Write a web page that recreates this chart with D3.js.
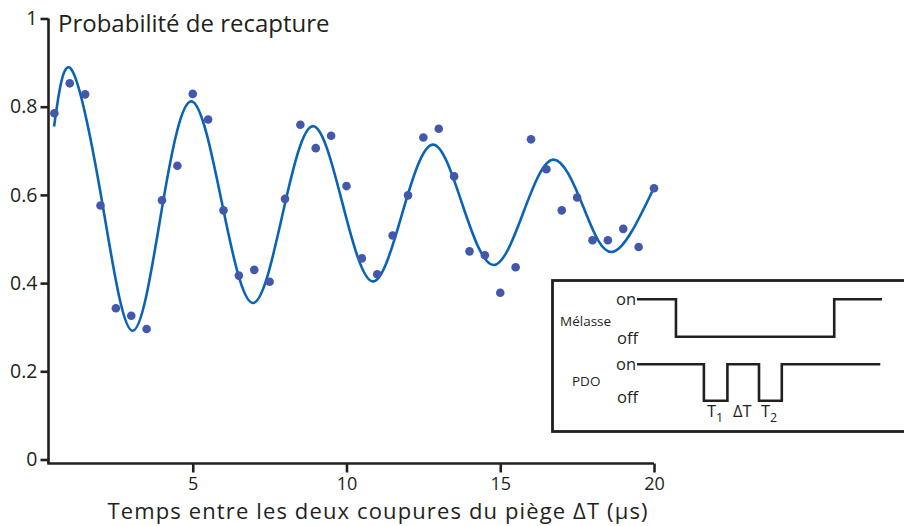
<!DOCTYPE html>
<html lang="fr">
<head>
<meta charset="utf-8">
<title>Probabilité de recapture</title>
<script src="https://d3js.org/d3.v7.min.js"></script>
<style>
  body { margin: 0; background: #fff; }
  svg text { font-family: "Open Sans", "Noto Sans", sans-serif; fill: #231f20; }
</style>
</head>
<body>
<svg id="chart" width="904" height="526"></svg>
<script>
// mesures : delta T (µs) et probabilité de recapture
let dt = [0.5, 1, 1.5, 2, 2.5, 3, 3.5, 4, 4.5, 5, 5.5, 6, 6.5, 7, 7.5, 8, 8.5, 9, 9.5, 10,
          10.5, 11, 11.5, 12, 12.5, 13, 13.5, 14, 14.5, 15, 15.5, 16, 16.5, 17, 17.5, 18, 18.5, 19, 19.5, 20];
let prob = [0.785, 0.853, 0.828, 0.576, 0.343, 0.326, 0.296, 0.588, 0.666, 0.829,
            0.771, 0.565, 0.417, 0.430, 0.403, 0.591, 0.759, 0.706, 0.734, 0.620,
            0.456, 0.420, 0.508, 0.599, 0.730, 0.750, 0.642, 0.472, 0.463, 0.378,
            0.436, 0.726, 0.658, 0.565, 0.594, 0.497, 0.497, 0.523, 0.482, 0.615];

// courbe ajustée (extrema et points intermédiaires)
let fitT = [0.49, 1.06, 2.05, 3.04, 4.0, 4.96, 5.96, 6.96, 7.95, 8.91, 9.88, 10.85,
            11.82, 12.8, 13.78, 14.77, 15.75, 16.72, 17.7, 18.67, 19.95];
let fitP = [0.755, 0.884, 0.585, 0.292, 0.57, 0.812, 0.578, 0.355, 0.565, 0.756, 0.578, 0.404,
            0.56, 0.714, 0.576, 0.441, 0.56, 0.680, 0.573, 0.471, 0.609];

let xTicks = [5, 10, 15, 20];
let yTicks = [0, 0.2, 0.4, 0.6, 0.8, 1];

// chronogramme de l'encart (temps arbitraire 0..100, 1 = on, 0 = off)
let melasseT = [0, 15.9, 80.5, 100];
let melasseL = [1, 0, 1, 1];
let pdoT = [0, 27.3, 36.9, 49.8, 59.1, 99.3];
let pdoL = [1, 0, 1, 0, 1, 1];

let svg = d3.select('#chart');
let ink = '#231f20';

let x = d3.scaleLinear().domain([0, 20]).range([39, 654]);
let y = d3.scaleLinear().domain([0, 1]).range([459.5, 18.5]);

// axe vertical
let yAxis = svg.append('g')
    .attr('transform', 'translate(48.5,0)')
    .call(d3.axisLeft(y).tickValues(yTicks).tickSize(8).tickPadding(3)
        .tickFormat(d => d === 0 || d === 1 ? d3.format('d')(d) : d3.format('.1f')(d)));
yAxis.select('.domain').attr('d', `M0,${y(1)}V463.5`);
yAxis.selectAll('line, path').attr('stroke', ink).attr('stroke-width', 2.6);
yAxis.selectAll('text').style('font-size', '19.5px').attr('fill', ink);

// axe horizontal
let xAxis = svg.append('g')
    .attr('transform', 'translate(0,463.5)')
    .call(d3.axisBottom(x).tickValues(xTicks).tickSize(9).tickPadding(5));
xAxis.select('.domain').attr('d', `M47.2,0H${x(20)}`);
xAxis.selectAll('line, path').attr('stroke', ink).attr('stroke-width', 2.6);
xAxis.selectAll('text').style('font-size', '18px').attr('fill', ink);

// titres
svg.append('text')
    .attr('x', 58).attr('y', 32)
    .style('font-size', '24px')
    .text('Probabilité de recapture');
svg.append('text')
    .attr('x', 377.5).attr('y', 519)
    .attr('text-anchor', 'middle')
    .attr('textLength', 540)
    .attr('lengthAdjust', 'spacing')
    .style('font-size', '22px')
    .text('Temps entre les deux coupures du piège ΔT (µs)');

// courbe ajustée
let fit = fitT.map((t, i) => ({t: t, p: fitP[i]}));
svg.append('path')
    .datum(fit)
    .attr('fill', 'none')
    .attr('stroke', '#0b63b5')
    .attr('stroke-width', 2.6)
    .attr('d', d3.line().x(d => x(d.t)).y(d => y(d.p)).curve(d3.curveNatural));

// points de mesure
svg.append('g')
    .selectAll('circle')
    .data(dt.map((t, i) => ({t: t, p: prob[i]})))
    .join('circle')
    .attr('cx', d => x(d.t))
    .attr('cy', d => y(d.p))
    .attr('r', 4.3)
    .attr('fill', '#4358ab');

// encart : chronogramme
let inset = svg.append('g');
inset.append('rect')
    .attr('x', 552.5).attr('y', 280.5)
    .attr('width', 380).attr('height', 151)
    .attr('fill', '#fff')
    .attr('stroke', ink).attr('stroke-width', 2.8);

let ix = d3.scaleLinear().domain([0, 100]).range([637, 882]);
let yMel = d3.scaleLinear().domain([0, 1]).range([336.7, 299.3]);
let yPdo = d3.scaleLinear().domain([0, 1]).range([400.7, 364.3]);

function stepLine(ts, ls, sy) {
    return d3.line()
        .x(d => ix(d.t))
        .y(d => sy(d.l))
        .curve(d3.curveStepAfter)(ts.map((t, i) => ({t: t, l: ls[i]})));
}
inset.append('path')
    .attr('d', stepLine(melasseT, melasseL, yMel))
    .attr('fill', 'none').attr('stroke', ink).attr('stroke-width', 2.6);
inset.append('path')
    .attr('d', stepLine(pdoT, pdoL, yPdo))
    .attr('fill', 'none').attr('stroke', ink).attr('stroke-width', 2.6);

let lab = [
    {txt: 'on', x: 636, y: 305, s: 16.5, a: 'end'},
    {txt: 'off', x: 617, y: 344, s: 16.5, a: 'start'},
    {txt: 'on', x: 636, y: 370, s: 16.5, a: 'end'},
    {txt: 'off', x: 617, y: 403, s: 16.5, a: 'start'},
    {txt: 'Mélasse', x: 560, y: 326, s: 13.5, a: 'start'},
    {txt: 'PDO', x: 572, y: 386, s: 13.5, a: 'start'}
];
inset.selectAll('text.lab')
    .data(lab)
    .join('text')
    .attr('class', 'lab')
    .attr('x', d => d.x).attr('y', d => d.y)
    .attr('text-anchor', d => d.a)
    .style('font-size', d => d.s + 'px')
    .text(d => d.txt);

// T1, ΔT, T2 sous les créneaux
let t1 = inset.append('text').attr('x', 707).attr('y', 417).style('font-size', '16.5px');
t1.append('tspan').text('T');
t1.append('tspan').attr('dy', 5).style('font-size', '12.5px').text('1');
inset.append('text').attr('x', 733).attr('y', 417).style('font-size', '16.5px').text('ΔT');
let t2 = inset.append('text').attr('x', 761).attr('y', 417).style('font-size', '16.5px');
t2.append('tspan').text('T');
t2.append('tspan').attr('dy', 5).style('font-size', '12.5px').text('2');
</script>
</body>
</html>
